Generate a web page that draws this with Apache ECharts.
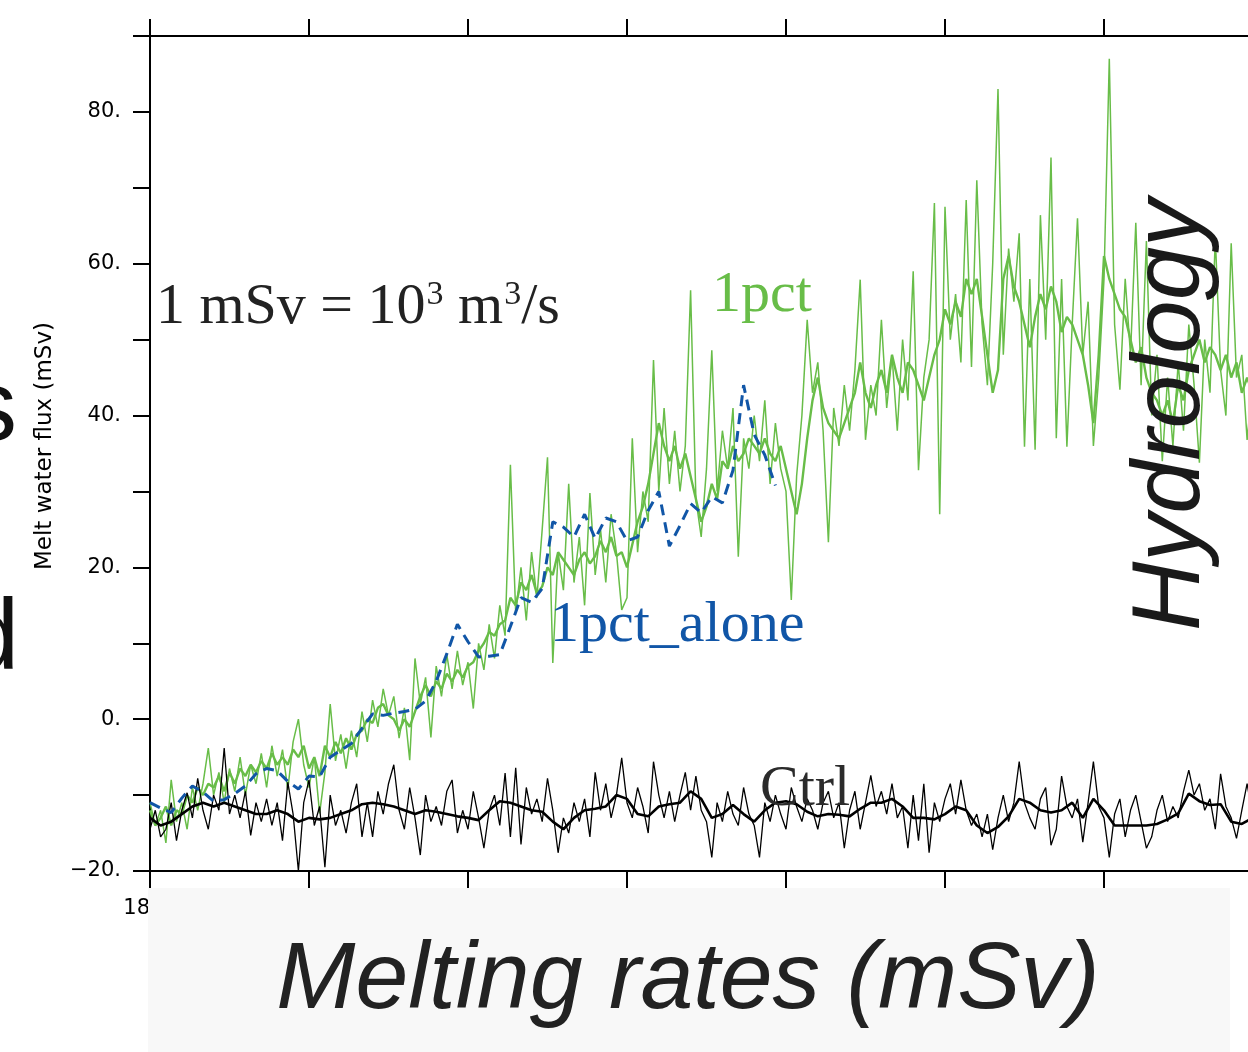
<!DOCTYPE html>
<html><head><meta charset="utf-8">
<script src="https://cdn.jsdelivr.net/npm/echarts@6/dist/echarts.min.js"></script>
<style>html,body{margin:0;padding:0;background:#fff}#c{width:1248px;height:1052px}</style>
</head><body><div id="c"></div>
<script>
// ---------- data ----------
const startYear = 1850;          // first year on the x axis
const xTickStep = 30;            // years between x ticks
const yLabelValues = [-20, 0, 20, 40, 60, 80];

// 1pct : annual values, spiky member (one per year from startYear)
const pctAnnual = [
-11,-14,-12,-16.3,-8,-13.5,-11,-14.5,-9,-12,
-8.5,-3.8,-10,-7,-11,-6.5,-9.5,-5,-10,-6,
-8.5,-4.5,-9,-3.5,-7.5,-4,-9.3,-3,0,-6,
-9,-5,-12.4,-7,2,-5.5,-2,-6.5,-1.5,-5,
1,-3,2.5,-1,4,0.5,3,-2.5,1.5,-5.4,
8,2,5.5,-2.4,7,3,8.5,4,9,4.5,
7.5,1.4,10,6.5,12.5,8,15,11,33.5,14,
20,13,22,16,25,34.5,7.4,22,17,31,
18,24,15,29.8,19,25,18,27,22,14.4,
16,37,22,30,26,47.3,30,41,31,38,
30,36,56.5,29,24,33,48.6,30,38,33,
41,21.4,37,33,40,34,42,31,39,33,
30,15.7,32,40,52.6,43,47,38,23.3,41,
36,44,38,46,57.9,36.8,44,40,52.6,41,
48,38,50,42,59,32.8,45,50,68,27,
67.5,50,56,47,68.4,46.4,71,52,44,60,
83,48,62,55,64,35.9,58,35.5,66.4,50,
74,37,58,35.9,52,66,48,55,36,45,
58,87,52,43.4,58,48,65.4,44,63,40,
48,34,45,36,47,38,52,44,33.8,50,
43,63.5,46,40,62.7,45,48,36.8,44];

// 1pct : annual values, steadier (thicker) line
const pctSteady = [
-12,-14,-13,-11.5,-14,-12,-12.5,-10,-11,-9,
-10,-8.5,-9,-7.5,-9.5,-7,-8.5,-6.5,-7.5,-6,
-7,-5.5,-6.5,-4.5,-6,-5,-6,-4,-5,-3.5,
-6.5,-5,-7.5,-3.5,-5,-3,-4.5,-2.5,-4,-2,
-1.5,0,-0.5,1.5,2,0.5,0,-1.5,0,-1,
1,3,4.5,3,5,4,6,5,6.5,5.5,
7,7.5,9,10,11.5,11,12.5,13,16,15,
18,17,19,16.5,17.5,20,19,22,21,20,
19,21,22,20.5,21.5,23.5,22,24,21.5,22,
20,23,26,28,31,35,39,36,34,36,
33,35,32,29,26,28,31,29,34,33,
36,34,35,37,36,35,37,35,34,36,
33,30,27,31,37,42,45,41,39,38,
37,39,41,43,47,43,41,44,46,43,
48,45,43,47,46,44,42,45,48,50,
54,52,55,53,58,56,58,53,48,43,
46,58,61,57,55,52,49,53,56,54,
57,55,51,53,52,50,48,44,39,48,
61,58,56,54,53,50,47,49,45,43,
42,40,42,39,44,42,46,48,50,47,
49,48,46,48,45,47,43,45,43];

// 1pct_alone : smoothed values (one per 2 years)
const pctAloneSmooth = [
-11,-11.7,-12.3,-10.4,-8.8,-9.6,-10.8,-10.6,-9.8,-8.8,
-7.2,-6.5,-6.8,-8.2,-9.2,-7.5,-7.6,-5,-4.1,-3.2,
-1.2,0.7,0.5,0.8,1,1.3,2.4,5,8.6,12.5,
10.2,8.2,8.3,8.5,12.2,16,15.4,17.2,26,25.3,
24,27,23.8,26.5,26,23.5,24,27.5,30,22.8,
25.5,28.4,27.2,29.3,28.5,32.8,44,37.5,34.8,30.8];

// Ctrl : annual values
const ctrlAnnual = [
-14.5,-12,-15.5,-14.5,-11,-16,-12,-9.7,-13,-7.8,
-12,-14.5,-10,-12,-3.8,-12.5,-10,-13,-9.5,-15.3,
-11,-13.5,-10.5,-14,-11,-16,-8.3,-12.5,-20,-11,
-8,-14,-11.5,-19.5,-10,-14,-12,-15,-11,-8.5,
-15.5,-11,-15.5,-9.5,-12.5,-8.5,-6,-12,-14.5,-9,
-13,-17.9,-10,-13.5,-11.5,-14,-9.5,-8,-15,-12,
-14.5,-9.5,-13,-17,-12,-10,-14,-7.1,-15.5,-6.4,
-16.5,-9,-12.5,-10.5,-13.5,-7.8,-12,-17.6,-13,-15,
-11,-13.5,-10.5,-15.5,-7,-12,-8.5,-13,-10,-5.1,
-11,-13,-9,-11.5,-15,-5.6,-10,-13,-9.5,-13.5,
-10,-7,-12,-7.5,-12,-13.5,-18.2,-11,-13.5,-9.5,
-12.5,-14,-9,-12.5,-14,-18.2,-11,-13.5,-10,-12.5,
-14.5,-9,-11.5,-13.5,-10.5,-12,-14.5,-11,-9.5,-13,
-11,-17,-12,-9.5,-14.5,-11,-7.4,-11.5,-9.5,-12.5,
-8.5,-13,-11.5,-17,-10,-16,-8.5,-17.6,-11,-13.5,
-10.5,-8.5,-12.5,-8,-12,-14,-12.5,-15.5,-12.5,-17.2,
-13,-10,-13.5,-11,-5.6,-11,-13,-14.5,-10.5,-9,
-16.6,-14.5,-7.5,-11.5,-13,-10.5,-16.2,-11,-5.6,-11.5,
-13,-18.2,-12.5,-10.5,-15.5,-12,-10,-13.5,-17,-15.5,
-12,-10,-13.5,-11.5,-13,-9.5,-6.7,-10,-8.5,-12,
-10.5,-14.5,-7.2,-11.5,-13,-15.7,-12,-8.5,-12.5];

// Ctrl : smoothed values (one per 2 years)
const ctrlSmooth = [
-13,-14,-13.5,-12.5,-11.5,-11,-11.5,-11,-11.5,-12,
-12.5,-12.5,-12,-12.5,-13.5,-13,-13.2,-13,-12.5,-12,
-11.2,-11,-11.2,-11.5,-12,-12.5,-12,-12.2,-12.5,-12.8,
-13,-13.3,-12,-10.8,-11,-11.5,-12,-12.2,-13.5,-14.5,
-13,-12,-11.8,-11.5,-10,-10.5,-12.5,-12.8,-11.5,-11.2,
-11,-9.5,-10.5,-13,-12.5,-11.3,-12.5,-13.5,-12,-11,
-10.8,-11.2,-12.2,-12.8,-12.5,-12.6,-12.8,-11.8,-11,-11,
-10.5,-11.5,-13,-13,-13.2,-12.5,-11.5,-12,-14,-15,
-14.2,-12.8,-10.5,-11,-12,-12.3,-12,-11,-13,-10.5,
-12,-14,-14,-14,-14,-13.8,-13.2,-12.4,-9.8,-10.8,
-11.3,-11.2,-13.5,-13.8,-13];

// ---------- styling ----------
const GREEN = '#68bd48';
const BLUE = '#1156a7';
const SERIF = '"Liberation Serif","Times New Roman",serif';
const SANS = '"Liberation Sans",Arial,sans-serif';
const DEJA = '"DejaVu Sans",sans-serif';

const annualPairs = arr => arr.map((v, i) => [i, v]);
const biPairs = arr => arr.map((v, k) => [2 * k, v]);

const mctx = document.createElement('canvas').getContext('2d');
function tw(t, font) { mctx.font = font; return mctx.measureText(t).width; }
const mid = (baseline, fs) => baseline - 0.345 * fs;

function txt(x, y, text, fs, family, fill, opts) {
  opts = opts || {};
  const font = (opts.italic ? 'italic ' : '') + (opts.weight || 'normal') + ' ' + fs + 'px ' + family;
  return {
    type: 'text', x: x, y: y, rotation: opts.rotation || 0, z: opts.z || 50, silent: true,
    style: {
      text: text, font: font, fill: fill,
      textAlign: opts.align || 'left', align: opts.align || 'left',
      textVerticalAlign: 'middle', verticalAlign: 'middle'
    }
  };
}

// equation pieces chained by measured widths
const fsM = 58, fsS = 34;
const eqX = 156, eqBase = 328, supBase = 307;
const p1 = '1 mSv = 10', p2 = ' m', p3 = '/s';
const w1 = tw(p1, fsM + 'px ' + SERIF);
const wS = tw('3', fsS + 'px ' + SERIF);
const w2 = tw(p2, fsM + 'px ' + SERIF);
const xs1 = eqX + w1 + 1;
const xm = xs1 + wS;
const xs2 = xm + w2 + 1;
const xsl = xs2 + wS;

const graphics = [
  txt(eqX, mid(eqBase, fsM), p1, fsM, SERIF, '#222'),
  txt(xs1, mid(supBase, fsS), '3', fsS, SERIF, '#222'),
  txt(xm, mid(eqBase, fsM), p2, fsM, SERIF, '#222'),
  txt(xs2, mid(supBase, fsS), '3', fsS, SERIF, '#222'),
  txt(xsl, mid(eqBase, fsM), p3, fsM, SERIF, '#222'),
  txt(712, mid(316, fsM), '1pct', fsM, SERIF, GREEN),
  txt(550, mid(646, fsM), '1pct_alone', fsM, SERIF, BLUE),
  txt(760, mid(810, fsM), 'Ctrl', fsM, SERIF, '#2b2b2b'),
  txt(1172, 415, 'Hydrology', 96, SANS, '#1a1a1a', {italic: true, align: 'center', rotation: Math.PI / 2}),
  txt(45, 446, 'Melt water flux (mSv)', 23, DEJA, '#000', {align: 'center', rotation: Math.PI / 2}),
  {type: 'rect', z: 90, silent: true, shape: {x: 148, y: 888, width: 1082, height: 164}, style: {fill: '#f8f8f8'}},
  txt(688, mid(1014, 95), 'Melting rates (mSv)', 95, SANS, '#222', {italic: true, align: 'center', z: 95}),
  txt(17, mid(447, 100), 's', 100, SANS, '#111', {align: 'right'}),
  txt(19, mid(676, 100), 'd', 100, SANS, '#111', {align: 'right'})
];

const axisCommon = {
  type: 'value', min: 0, max: 7 * xTickStep, interval: xTickStep,
  axisLine: {show: true, onZero: false, lineStyle: {color: '#000', width: 2}},
  axisTick: {show: true, inside: false, length: 17, lineStyle: {color: '#000', width: 2}},
  splitLine: {show: false}
};

const option = {
  animation: false,
  backgroundColor: '#fff',
  grid: {left: 150, top: 36, width: 1113, height: 835, containLabel: false, outerBoundsMode: 'none'},
  xAxis: [
    Object.assign({}, axisCommon, {
      position: 'bottom',
      axisLabel: {show: true, margin: 27, fontSize: 21, fontFamily: 'DejaVu Sans', color: '#000',
        showMaxLabel: false, formatter: v => String(startYear + v)}
    }),
    Object.assign({}, axisCommon, {position: 'top', axisLabel: {show: false}})
  ],
  yAxis: {
    type: 'value', min: -20, max: 90, interval: 10,
    axisLine: {show: true, onZero: false, lineStyle: {color: '#000', width: 2}},
    axisTick: {show: true, inside: false, length: 17, lineStyle: {color: '#000', width: 2}},
    splitLine: {show: false},
    axisLabel: {show: true, margin: 29, fontSize: 21, fontFamily: 'DejaVu Sans', color: '#000',
      formatter: v => yLabelValues.includes(v) ? (v < 0 ? '\u2212' + (-v) : String(v)) + '.' : ''}
  },
  series: [
    {name: '1pct', type: 'line', data: annualPairs(pctAnnual), symbol: 'none', silent: true,
      lineStyle: {color: GREEN, width: 1.5}, z: 2},
    {name: '1pct steady', type: 'line', data: annualPairs(pctSteady), symbol: 'none', silent: true,
      lineStyle: {color: GREEN, width: 2.4}, z: 2},
    {name: 'Ctrl', type: 'line', data: annualPairs(ctrlAnnual), symbol: 'none', silent: true,
      lineStyle: {color: '#000', width: 1.3}, z: 3},
    {name: 'Ctrl smooth', type: 'line', data: biPairs(ctrlSmooth), symbol: 'none', silent: true,
      lineStyle: {color: '#000', width: 2.6}, z: 3},
    {name: '1pct_alone', type: 'line', data: biPairs(pctAloneSmooth), symbol: 'none', silent: true,
      lineStyle: {color: BLUE, width: 3, type: [11, 7]}, z: 4}
  ],
  graphic: {elements: graphics}
};

const chart = echarts.init(document.getElementById('c'), null, {renderer: 'canvas'});
chart.setOption(option);
</script>
</body></html>
